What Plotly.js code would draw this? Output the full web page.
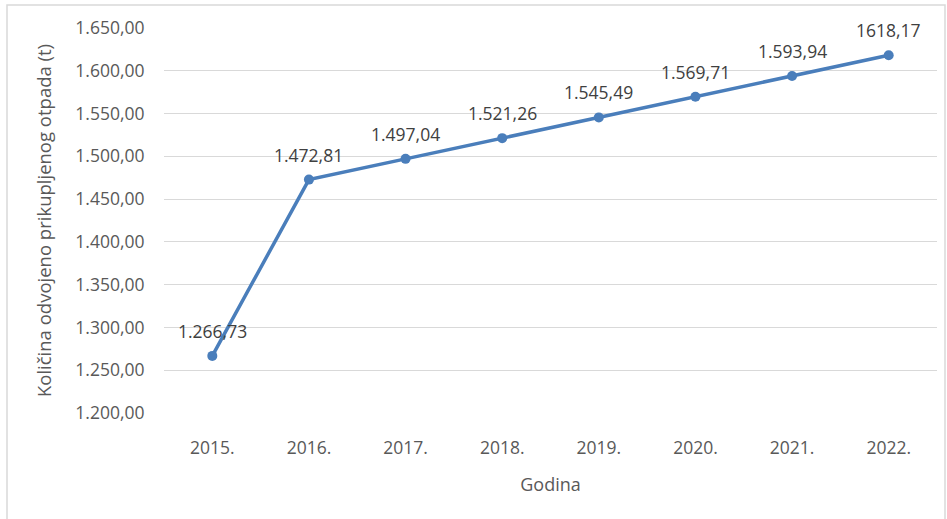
<!DOCTYPE html>
<html>
<head>
<meta charset="utf-8">
<script src="https://cdn.plot.ly/plotly-3.0.1.min.js"></script>
<style>html,body{margin:0;padding:0;background:#fff;}#chart{width:947px;height:519px;}</style>
</head>
<body>
<div id="chart"></div>
<script>
const years = ["2015.", "2016.", "2017.", "2018.", "2019.", "2020.", "2021.", "2022."];
const values = [1266.73, 1472.81, 1497.04, 1521.26, 1545.49, 1569.71, 1593.94, 1618.17];
const labels = ["1.266,73", "1.472,81", "1.497,04", "1.521,26", "1.545,49", "1.569,71", "1.593,94", "1618,17"];
const yTicks = [1200, 1250, 1300, 1350, 1400, 1450, 1500, 1550, 1600, 1650];

const W = 947, H = 519;
const m = {l: 164, r: 10, t: 28, b: 106};
const pw = W - m.l - m.r, ph = H - m.t - m.b;
const px = x => (x - m.l) / pw;
const py = y => (H - m.b - y) / ph;

const FONT = '"Open Sans", sans-serif';

const trace = {
  x: years, y: values, type: 'scatter', mode: 'lines+markers',
  line: {color: '#4a7ebb', width: 3.5},
  marker: {color: '#4a7ebb', size: 10},
  hoverinfo: 'none'
};

// category axis: annotation x given as category index (labels like "2015." would be read as numbers)
const annotations = years.map((yr, i) => ({
  x: i, y: values[i], xref: 'x', yref: 'y', text: labels[i],
  showarrow: false, yshift: 25,
  font: {family: FONT, size: 17.5, color: '#404040'}
}));

const layout = {
  width: W, height: H,
  margin: m,
  paper_bgcolor: '#ffffff', plot_bgcolor: '#ffffff',
  separators: ',.',
  showlegend: false,
  font: {family: FONT, color: '#595959'},
  xaxis: {
    type: 'category', range: [-0.5, 7.5],
    showgrid: false, zeroline: false, showline: false,
    ticks: 'outside', ticklen: 19, tickcolor: 'rgba(0,0,0,0)',
    tickfont: {family: FONT, size: 17.5, color: '#595959'},
    title: {text: 'Godina', font: {family: FONT, size: 18, color: '#595959'}, standoff: 20},
    automargin: false
  },
  yaxis: {
    range: [1200, 1650], tickvals: yTicks, tickformat: ',.2f',
    showgrid: true, gridcolor: '#d9d9d9', gridwidth: 1, zeroline: false, showline: false,
    ticks: 'outside', ticklen: 15, tickcolor: 'rgba(0,0,0,0)',
    tickfont: {family: FONT, size: 17.5, color: '#595959'},
    title: {text: 'Količina odvojeno prikupljenog otpada (t)', font: {family: FONT, size: 18.5, color: '#595959'}, standoff: 18},
    automargin: false
  },
  annotations: annotations,
  shapes: [{
    type: 'rect', xref: 'paper', yref: 'paper',
    x0: px(7), x1: px(945), y0: py(530), y1: py(5),
    line: {color: '#d9d9d9', width: 1.5}, fillcolor: 'rgba(0,0,0,0)', layer: 'below'
  }]
};

Plotly.newPlot('chart', [trace], layout, {displayModeBar: false, staticPlot: true});
</script>
</body>
</html>
